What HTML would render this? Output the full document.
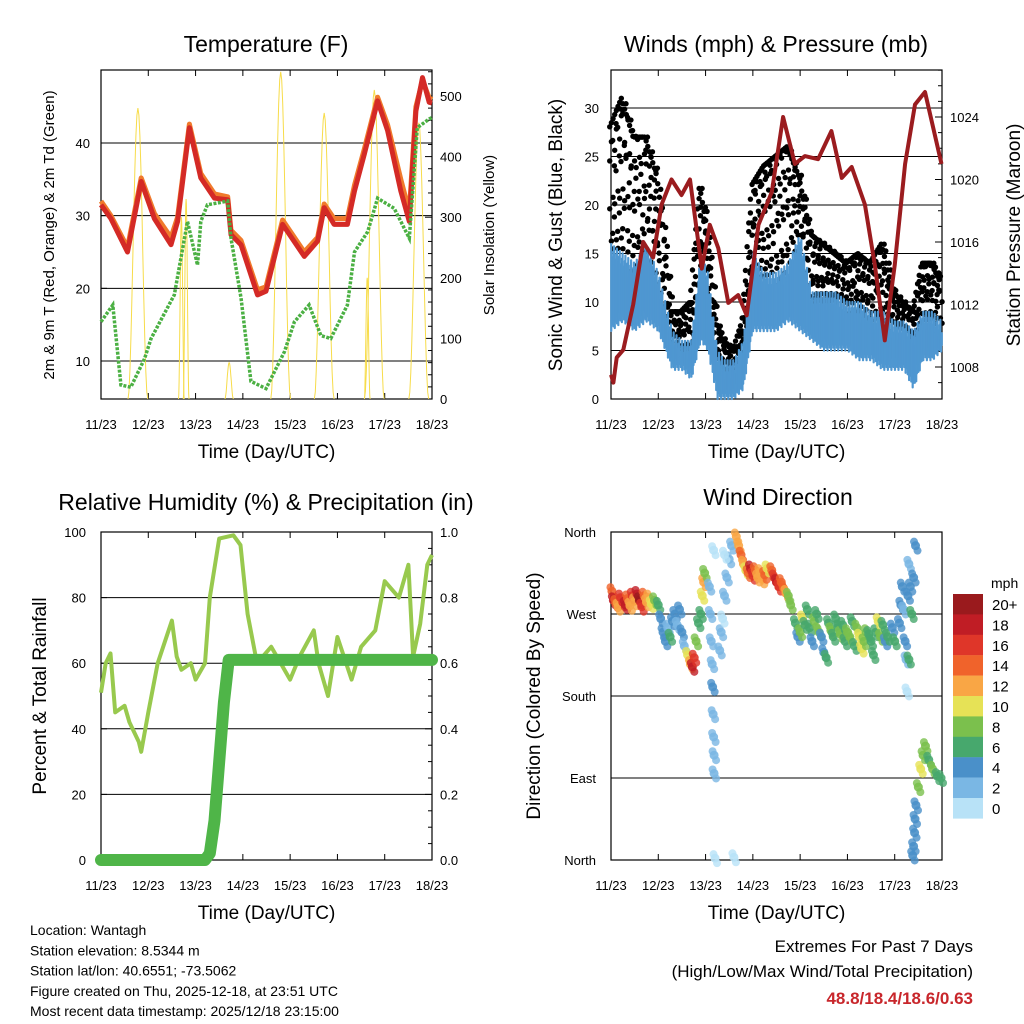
<!DOCTYPE html>
<html><head><meta charset="utf-8"><style>
html,body{margin:0;padding:0;background:#fff;}
svg{display:block;font-family:"Liberation Sans",Arial,sans-serif;}
</style></head><body>
<svg id="chart" width="1024" height="1024" viewBox="0 0 1024 1024" xmlns="http://www.w3.org/2000/svg"></svg>
<script>
// ---------- DATA ----------
const dayLabels = ["11/23","12/23","13/23","14/23","15/23","16/23","17/23","18/23"];
// Temperature (F)
const tRedDays = [0,0.21,0.56,0.85,1.13,1.48,1.62,1.87,2.11,2.40,2.68,2.75,2.96,3.31,3.49,3.84,4.30,4.58,4.72,4.93,5.21,5.36,5.57,5.85,6.06,6.34,6.52,6.66,6.80,6.94,7.0];
const tRedVals = [31.5,29.6,25.0,34.7,29.6,26.0,29.2,42.1,35.2,32.4,32.2,27.4,26.0,19.1,19.6,28.8,24.4,26.5,31.1,28.8,28.8,33.4,38.5,45.8,41.7,33.4,29.2,44.4,49.0,45.6,45.5];
const tOrgVals = [32.0,30.0,25.6,35.2,30.3,27.0,29.8,42.6,35.8,33.0,32.6,28.0,26.6,19.8,20.2,29.4,25.0,27.0,31.6,29.6,29.6,34.2,39.2,46.3,42.5,35.0,30.5,45.0,48.6,46.2,46.0];
const tdDays = [0,0.25,0.42,0.63,0.92,1.06,1.55,1.83,2.04,2.11,2.25,2.68,2.75,2.96,3.17,3.49,3.88,4.09,4.40,4.65,4.86,5.21,5.36,5.64,5.85,6.20,6.52,6.69,6.94,7.0];
const tdVals = [15.4,17.7,6.7,6.4,10.3,13.1,19.1,29.2,23.2,29.2,31.5,32.0,26.9,18.7,7.2,6.2,11.3,15.4,17.7,13.5,13.1,17.7,25.0,27.8,32.4,31.0,26.9,42.1,43.3,43.5];
const solarPeakDays = [0.78,1.70,1.80,2.71,3.80,4.72,5.63,5.78,6.72];
const solarPeakVals = [480,300,330,60,540,472,200,510,456];
const solarWidths = [0.42,0.12,0.12,0.18,0.42,0.42,0.12,0.42,0.42];
// Winds (mph)
const windDays = [0,0.25,0.5,0.75,1.0,1.15,1.3,1.5,1.7,1.9,2.05,2.25,2.4,2.6,2.8,3.0,3.25,3.5,3.75,4.0,4.25,4.5,4.75,5.0,5.25,5.5,5.75,6.0,6.2,6.4,6.6,6.8,7.0];
const windLow = [7,8,7,8,7,5,3,3,2,6,5,0,0,0,1,7,7,7,8,7,6,5,5,5,4,4,3,3,3,1,4,4,5];
const windHigh = [16,15,14,16,13,10,7,6,6,15,13,5,4,4,6,15,13,13,14,17,11,11,11,10,10,9,9,8,8,7,9,9,8];
const gustHigh = [28,31,27,27,23,17,9,9,10,22,18,8,6,5,8,22,24,25,26,23,17,16,15,14,15,14,16,11,10,9,14,14,12];
const pressDays = [0,0.05,0.12,0.26,0.47,0.68,0.89,1.07,1.28,1.49,1.67,1.92,2.09,2.27,2.48,2.69,2.87,3.12,3.40,3.64,3.89,4.10,4.38,4.66,4.88,5.09,5.37,5.58,5.79,6.00,6.22,6.43,6.64,6.99];
const pressVals = [1007.5,1007,1008.6,1009.1,1012,1016,1015,1018.4,1020,1019,1020,1014.3,1017.1,1015.6,1012.1,1012.6,1011.3,1017.1,1019.2,1024,1021,1021.5,1021.3,1023.1,1020.1,1020.8,1018.4,1014.5,1009.7,1014.5,1021,1024.8,1025.6,1021];
// Relative humidity & precipitation
const rhDays = [0,0.1,0.2,0.3,0.5,0.6,0.8,0.85,1.0,1.2,1.5,1.6,1.7,1.9,2.0,2.2,2.3,2.5,2.8,2.95,3.1,3.3,3.6,3.8,4.0,4.2,4.5,4.6,4.8,5.0,5.3,5.5,5.8,6.0,6.3,6.5,6.6,6.75,6.9,7.0];
const rhVals = [51,60,63,45,47,42,36,33,45,60,73,62,58,60,55,60,80,98,99,96,75,60,65,60,55,62,70,60,50,68,55,65,70,85,80,90,62,72,90,93];
const pcpDays = [0,2.2,2.3,2.4,2.5,2.6,2.7,7.0];
const pcpVals = [0,0,0.02,0.12,0.3,0.48,0.61,0.61];
// Wind direction (deg) with speed (mph)
const dirDays = [0.02,0.05,0.1,0.15,0.2,0.25,0.3,0.35,0.4,0.45,0.5,0.55,0.6,0.65,0.7,0.75,0.8,0.85,0.92,1.0,
1.05,1.1,1.15,1.2,1.25,1.3,1.35,1.4,1.45,1.5,1.55,1.62,1.68,1.72,1.76,1.8,1.85,1.9,1.93,1.96,1.98,
2.08,2.1,2.12,2.14,2.15,2.16,2.17,2.18,2.18,2.17,2.2,2.3,2.33,2.36,2.4,2.45,2.5,2.55,2.6,2.4,
2.65,2.7,2.75,2.8,2.85,2.9,2.95,3.0,3.05,3.1,3.15,3.2,3.25,3.3,3.4,3.45,3.5,3.55,3.6,3.65,3.7,3.75,3.8,
3.9,3.95,4.0,4.05,4.1,4.15,4.2,4.25,4.3,4.35,4.4,4.45,4.5,4.55,4.6,4.65,4.7,4.75,4.8,4.85,4.9,4.95,5.0,5.05,5.1,5.15,5.2,5.25,5.3,5.35,5.4,5.45,5.5,5.55,5.6,5.65,5.7,5.75,5.8,5.85,5.95,6.0,
6.1,6.13,6.16,6.19,6.22,6.24,6.26,6.28,6.3,6.33,6.36,6.4,6.44,6.3,
6.38,6.4,6.42,6.43,6.45,6.5,6.55,6.6,6.65,6.72,6.8,6.9,6.98];
const dirDegs = [295,285,282,278,288,283,280,287,279,290,284,292,285,278,290,283,288,281,285,280,
265,250,240,255,245,262,270,258,275,250,235,225,215,212,222,240,260,270,290,305,315,
300,270,240,215,190,160,135,115,95,340,2,230,250,265,290,310,330,345,3,335,
355,345,335,325,318,315,320,312,318,310,316,308,313,320,318,310,305,300,305,298,293,290,280,
260,245,250,265,258,275,255,240,262,270,250,245,228,222,260,252,245,265,255,248,258,240,250,245,262,235,255,245,232,240,250,248,240,225,250,262,245,258,240,245,255,240,
260,280,300,275,240,220,185,290,325,300,270,310,345,220,
5,15,30,45,60,80,100,115,125,110,100,92,90];
const dirSpds = [14,18,15,12,16,17,19,14,12,16,13,18,20,17,15,13,12,10,8,7,
4,4,5,3,6,4,4,3,4,4,3,10,12,18,16,9,7,7,11,13,9,
3,2,2,3,4,3,3,2,2,1,1,2,2,1,2,2,3,3,1,1,
12,13,14,12,11,15,18,16,14,13,12,13,15,10,14,16,18,17,15,14,13,9,8,
6,4,8,10,7,6,6,5,8,6,9,4,5,6,7,8,7,6,6,8,7,6,8,9,6,6,8,10,11,8,9,6,6,6,7,10,8,6,4,6,5,6,
4,4,5,3,4,3,1,4,2,5,6,5,4,6,
4,4,4,4,5,8,10,8,8,7,8,6,6];
const cbLabels = ["20+","18","16","14","12","10","8","6","4","2","0"];
const cbColors = ["#9a1a1d","#c01d25","#df3629","#f0632b","#f9a645","#e6e256","#7bc04d","#47a86d","#4a90c9","#7ab7e4","#b8e2f7"];

// ---------- HELPERS ----------
const NS = "http://www.w3.org/2000/svg";
const svg = document.getElementById("chart");
function make(tag, attrs, parent){
  const el = document.createElementNS(NS, tag);
  for (const k in attrs) el.setAttribute(k, attrs[k]);
  (parent||svg).appendChild(el);
  return el;
}
function txt(x,y,s,size,anchor,parent,rot,fill,weight){
  const el = make("text",{x:x,y:y,"font-size":size,"text-anchor":anchor||"middle",fill:fill||"#000"},parent);
  if(rot) el.setAttribute("transform","rotate("+rot+" "+x+" "+y+")");
  if(weight) el.setAttribute("font-weight",weight);
  el.textContent = s;
  return el;
}
function grp(name){
  const g = make("g",{});
  
  
  return g;
}
function linear(d0,d1,r0,r1){ return v => r0 + (v-d0)/(d1-d0)*(r1-r0); }
function pathFrom(xs,ys,fx,fy){
  return xs.map((d,i)=>(i?"L":"M")+fx(d).toFixed(1)+","+fy(ys[i]).toFixed(1)).join(" ");
}
function interp(xs,ys,t){
  for(let i=1;i<xs.length;i++){ if(t<=xs[i]){ const f=(t-xs[i-1])/(xs[i]-xs[i-1]||1); return ys[i-1]+f*(ys[i]-ys[i-1]); } }
  return ys[ys.length-1];
}
function frame(L,T,R,B,fx,prefix){
  const g = grp(prefix+"-axes");
  make("rect",{x:L,y:T,width:R-L,height:B-T,fill:"none",stroke:"#000","stroke-width":1.2},g);
  dayLabels.forEach((lab,i)=>{
    const x = fx(i);
    make("line",{x1:x,y1:B,x2:x,y2:B-6,stroke:"#000"},g);
    make("line",{x1:x,y1:T,x2:x,y2:T+6,stroke:"#000"},g);
    const t = txt(x,B+30,lab,13,"middle",g);
    
    
  });
  const xl = txt((L+R)/2,B+59,"Time (Day/UTC)",19,"middle",g);
  
  
  return g;
}
function hgrid(g,L,R,y){ make("line",{x1:L,y1:y,x2:R,y2:y,stroke:"#000","stroke-width":1},g); }

// ---------- PANEL 1: TEMPERATURE ----------
(function(){
  const L=101,R=432,T=70,B=399;
  const fx = linear(0,7,L,R);
  const fy = linear(10,40,361,143);
  const fs = linear(0,500,399,96);
  const g = frame(L,T,R,B,fx,"temp");
  [10,20,30,40].forEach(v=>{hgrid(g,L,R,fy(v)); make("line",{x1:L,y1:fy(v),x2:L+6,y2:fy(v),stroke:"#000"},g);
    const t=txt(L-11,fy(v)+5,String(v),13,"end",g);  });
  for(let v=0;v<=540;v+=20){ const y=fs(v); if(y<T) break; make("line",{x1:R,y1:y,x2:R-(v%100?4:7),y2:y,stroke:"#000"},g); }
  [0,100,200,300,400,500].forEach(v=>{const t=txt(R+8,fs(v)+5,String(v),13,"start",g);  });
  const tl = txt(266,52,"Temperature (F)",23,"middle");
   
  const yl = txt(54,235,"2m & 9m T (Red, Orange) & 2m Td (Green)",15,"middle",null,-90);
   
  const yr = txt(494,235,"Solar Insolation (Yellow)",15,"middle",null,-90);
   
  const cp = make("clipPath",{id:"c1"}); make("rect",{x:L,y:T,width:R-L,height:B-T},cp);
  const s = grp("solar-series"); s.setAttribute("clip-path","url(#c1)");
  solarPeakDays.forEach((d,i)=>{
    const w=solarWidths[i], xs=[], ys=[];
    for(let k=0;k<=20;k++){ const f=k/20; xs.push(d-w/2+f*w); ys.push(solarPeakVals[i]*Math.pow(Math.sin(Math.PI*f),2)); }
    const p = make("path",{d:pathFrom(xs,ys,fx,fs),fill:"none",stroke:"#f7dc4a","stroke-width":1},s);
     
  });
  const o = make("path",{d:pathFrom(tRedDays,tOrgVals,fx,fy),fill:"none",stroke:"#f07a2c","stroke-width":5,"stroke-linejoin":"round"});
   
  const r = make("path",{d:pathFrom(tRedDays,tRedVals,fx,fy),fill:"none",stroke:"#d42a26","stroke-width":5,"stroke-linejoin":"round"});
   
  const gd = make("path",{d:pathFrom(tdDays,tdVals,fx,fy),fill:"none",stroke:"#4bb043","stroke-width":3.5,"stroke-dasharray":"3 1.5"});
   
})();

// ---------- PANEL 2: WINDS & PRESSURE ----------
(function(){
  const L=611,R=942,T=70,B=399;
  const fx = linear(0,7,L,R);
  const fy = linear(0,30,399,108);
  const fp = linear(1008,1024,367,117);
  const g = frame(L,T,R,B,fx,"wind");
  [0,5,10,15,20,25,30].forEach(v=>{ if(v>0) hgrid(g,L,R,fy(v)); make("line",{x1:L,y1:fy(v),x2:L+6,y2:fy(v),stroke:"#000"},g);
    const t=txt(L-12,fy(v)+5,String(v),13,"end",g);  });
  for(let v=1007;v<=1027;v++){ const y=fp(v); if(y<T||y>B) continue; make("line",{x1:R,y1:y,x2:R-(v%4?4:7),y2:y,stroke:"#000"},g); }
  [1008,1012,1016,1020,1024].forEach(v=>{const t=txt(R+8,fp(v)+5,String(v),13,"start",g);  });
  const tl = txt(776,52,"Winds (mph) & Pressure (mb)",23,"middle");
   
  const yl = txt(562,235,"Sonic Wind & Gust (Blue, Black)",19,"middle",null,-90);
   
  const yr = txt(1020,235,"Station Pressure (Maroon)",19,"middle",null,-90);
   
  const gu = grp("gust-black-points");
  const bl = grp("wind-blue-points");
  const fr = [0.05,0.22,0.4,0.58,0.75,0.9,1.0];
  let k=0;
  for(let t=0.005;t<7;t+=0.035){
    const hi=interp(windDays,windHigh,t), gh=interp(windDays,gustHigh,t);
    const sh=((k*37)%10)/60;
    fr.forEach((f,j)=>{
      if((j+k)%3===0 && f<1) return;
      const ff=Math.min(1,f+ (f<1?sh:0));
      make("circle",{cx:fx(t)+((j%2)?1.5:-1.5),cy:fy(hi-2+(gh-hi+2)*ff),r:2.7,fill:"#000"},gu);
    });
    k++;
  }
  k=0;
  for(let t=0.005;t<7;t+=0.015){
    const lo=interp(windDays,windLow,t), hi=interp(windDays,windHigh,t);
    const a=((k*7)%5)/5, b=((k*3)%4)/4;
    make("line",{x1:fx(t),y1:fy(lo+a*1.5),x2:fx(t),y2:fy(hi-b*2.5),stroke:"#4f97d1","stroke-width":2.2,"stroke-linecap":"round"},bl);
    k++;
  }
  const p = make("path",{d:pathFrom(pressDays,pressVals,fx,fp),fill:"none",stroke:"#9b1c1f","stroke-width":4,"stroke-linejoin":"round"});
   
})();

// ---------- PANEL 3: RH & PRECIP ----------
(function(){
  const L=101,R=432,T=532,B=860;
  const fx = linear(0,7,L,R);
  const fy = linear(0,100,860,532);
  const fr = linear(0,1,860,532);
  const g = frame(L,T,R,B,fx,"rh");
  [0,20,40,60,80,100].forEach(v=>{ if(v>0&&v<100) hgrid(g,L,R,fy(v)); make("line",{x1:L,y1:fy(v),x2:L+6,y2:fy(v),stroke:"#000"},g);
    const t=txt(L-15,fy(v)+5,String(v),13,"end",g);  });
  for(let v=0;v<=1.001;v+=0.05){ make("line",{x1:R,y1:fr(v),x2:R-(Math.round(v*20)%4?4:7),y2:fr(v),stroke:"#000"},g); }
  [0,0.2,0.4,0.6,0.8,1.0].forEach(v=>{const t=txt(R+8,fr(v)+5,v.toFixed(1),13,"start",g);  });
  const tl = txt(266,510,"Relative Humidity (%) & Precipitation (in)",23,"middle");
   
  const yl = txt(46,696,"Percent & Total Rainfall",19,"middle",null,-90);
   
  const rh = make("path",{d:pathFrom(rhDays,rhVals,fx,fy),fill:"none",stroke:"#98c94e","stroke-width":4,"stroke-linejoin":"round"});
   
  const pc = make("path",{d:pathFrom(pcpDays,pcpVals,fx,fr),fill:"none",stroke:"#4fb548","stroke-width":12,"stroke-linecap":"round","stroke-linejoin":"round"});
   
})();

// ---------- PANEL 4: WIND DIRECTION ----------
(function(){
  const L=611,R=942,T=532,B=860;
  const fx = linear(0,7,L,R);
  const fy = linear(0,360,860,532);
  const g = frame(L,T,R,B,fx,"dir");
  const labs=["North","East","South","West","North"];
  [0,90,180,270,360].forEach((v,i)=>{ hgrid(g,L,R,fy(v));
    const t=txt(L-15,fy(v)+5,labs[i],13,"end",g);  });
  const tl = txt(778,505,"Wind Direction",23,"middle");
   
  const yl = txt(540,696,"Direction (Colored By Speed)",19,"middle",null,-90);
   
  const pts = grp("direction-points");
  dirDays.forEach((d,i)=>{
    const sp=dirSpds[i], idx = Math.max(0,Math.min(10,10-Math.floor(sp/2)));
    const c = make("circle",{cx:fx(d),cy:fy(dirDegs[i]),r:4.5,fill:cbColors[idx],"fill-opacity":0.9},pts);
     
    make("circle",{cx:fx(d)+2,cy:fy(dirDegs[i])+5,r:4,fill:cbColors[idx],"fill-opacity":0.8},pts);
    make("circle",{cx:fx(d)-1.5,cy:fy(dirDegs[i])-4,r:4,fill:cbColors[idx],"fill-opacity":0.8},pts);
  });
  const cb = grp("speed-colorbar");
  const mph = txt(991,588,"mph",14,"start",cb);
   
  cbColors.forEach((c,i)=>{
    const y=594+i*20.4;
    const r = make("rect",{x:953,y:y,width:30,height:20.6,fill:c},cb);
     
    txt(992,y+16,cbLabels[i],15,"start",cb);
  });
})();

// ---------- FOOTER ----------
(function(){
  const g = grp("station-info");
  ["Location: Wantagh","Station elevation: 8.5344 m","Station lat/lon: 40.6551; -73.5062","Figure created on Thu, 2025-12-18, at 23:51 UTC","Most recent data timestamp: 2025/12/18 23:15:00"]
   .forEach((s,i)=>txt(30,935+i*20.3,s,14,"start",g));
  const e = grp("extremes-box");
  txt(973,952,"Extremes For Past 7 Days",17,"end",e);
  txt(973,977,"(High/Low/Max Wind/Total Precipitation)",17,"end",e);
  const v = txt(973,1004,"48.8/18.4/18.6/0.63",17,"end",e,null,"#c8262b","bold");
   
})();
</script>
</body></html>
